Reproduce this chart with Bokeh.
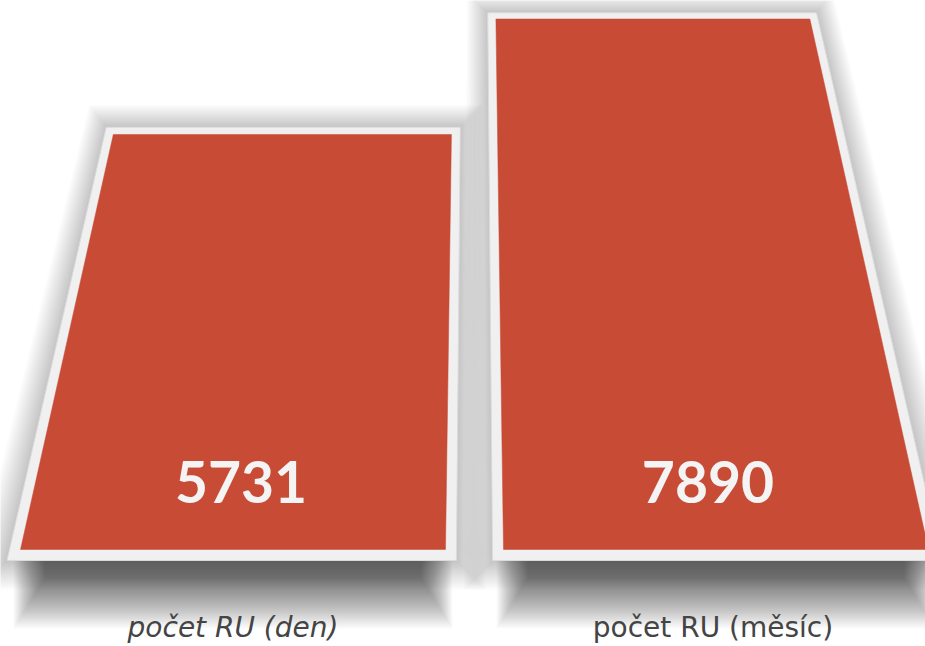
from bokeh.plotting import figure
from bokeh.models import Range1d, ColumnDataSource
from bokeh.embed import file_html
from bokeh.resources import INLINE
from bokeh.core.properties import value

# ---- data ----
categories = ["počet RU (den)", "počet RU (měsíc)"]
values = [5731, 7890]
value_labels = ["5731", "7890"]

# ---- layout / perspective (style) ----
W, H = 925, 646
centers = [232.5, 715.5]     # bar centres on the baseline (screen px)
half_w = 212.5
base_y = 549.0               # baseline screen y
vx, vy = 474.0, -1481.0      # vanishing point
H0 = base_y - vy
c = 4.484e-5                 # depth per value unit


def proj(X, v):
    f = 1.0 + c * v
    return vx + (X - vx) / f, vy + H0 / f


def quad_poly(xl, xr, vb, vt):
    pts = [proj(xl, vb), proj(xr, vb), proj(xr, vt), proj(xl, vt)]
    return [p[0] for p in pts], [p[1] for p in pts]


p = figure(width=W, height=H, output_backend="svg", toolbar_location=None,
           x_range=Range1d(0, W), y_range=Range1d(H, 0),
           min_border=0, background_fill_color="white", border_fill_color="white")
p.axis.visible = False
p.grid.visible = False
p.outline_line_color = None

frame_x = 11
frame_vb = -120
frame_vt = 125

# soft glow around frames
for cx, v in zip(centers, values):
    gx, gy = [], []
    for d in range(1, 30):
        xs, ys = quad_poly(cx - half_w - frame_x - d, cx + half_w + frame_x + d,
                           frame_vb - d * 11, v + frame_vt + d * 14)
        gx.append(xs)
        gy.append(ys)
    p.patches(gx, gy, fill_color="black", fill_alpha=0.007, line_color=None)

# blurred shadow below each bar
for cx in centers:
    l, r, t, b = [], [], [], []
    xl = cx - half_w - frame_x
    xr = cx + half_w + frame_x
    for k in range(32):
        l.append(xl + 4 + 1.0 * k)
        r.append(xr - 4 - 1.0 * k)
        t.append(556)
        b.append(628 - 1.6 * k)
    p.quad(left=l, right=r, top=t, bottom=b, fill_color="black",
           fill_alpha=0.021, line_color=None)

# frames and bars
fx, fy = [], []
bx, by = [], []
for cx, v in zip(centers, values):
    xs, ys = quad_poly(cx - half_w - frame_x, cx + half_w + frame_x, frame_vb, v + frame_vt)
    fx.append(xs); fy.append(ys)
    xs, ys = quad_poly(cx - half_w, cx + half_w, 0, v)
    bx.append(xs); by.append(ys)
p.patches(fx, fy, fill_color="#f0f0f0", line_color="#dcdcdc", line_width=1)
p.patches(bx, by, fill_color="#c84b35", line_color="#c84b35", line_width=0.5)

# value labels
lab_pos = [proj(cx, 770) for cx in centers]
src = ColumnDataSource(dict(x=[q[0] for q in lab_pos], y=[q[1] for q in lab_pos],
                            t=value_labels))
p.text(x="x", y="y", text="t", source=src, text_align="center", text_baseline="middle",
       text_font=value("Lato"), text_font_style="bold", text_font_size="57px",
       text_color="#f4f4f4")

# category labels
styles = ["italic", "normal"]
for cx, cat, st in zip(centers, categories, styles):
    p.text(x=[cx if st == "italic" else cx - 3], y=[627], text=[cat],
           text_align="center", text_baseline="alphabetic",
           text_font=value("DejaVu Sans"), text_font_style=st, text_font_size="28px",
           text_color="#444444")

open("out.html", "w").write(file_html(p, INLINE))
